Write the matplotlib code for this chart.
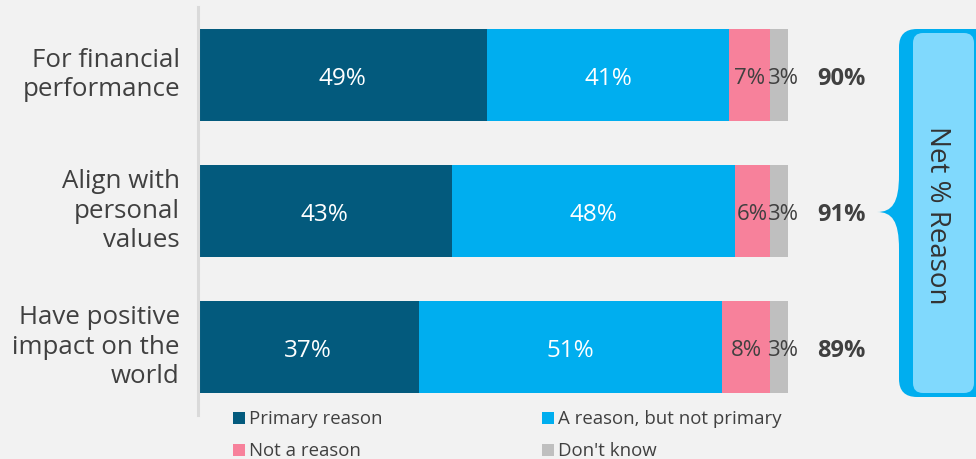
import matplotlib
matplotlib.use("Agg")
import matplotlib.pyplot as plt
from matplotlib.path import Path
from matplotlib.patches import PathPatch, FancyBboxPatch, Rectangle
import matplotlib.transforms as mtransforms
import numpy as np

plt.rcParams['font.family'] = ['Open Sans', 'DejaVu Sans']

categories = ["For financial\nperformance", "Align with\npersonal\nvalues", "Have positive\nimpact on the\nworld"]
series_names = ["Primary reason", "A reason, but not primary", "Not a reason", "Don't know"]
primary = [49, 43, 37]
reason_not_primary = [41, 48, 51]
not_a_reason = [7, 6, 8]
dont_know = [3, 3, 3]
net_reason = [90, 91, 89]
colors = ["#035A7D", "#00AEEF", "#F7819B", "#BFBFBF"]
label_colors = ["white", "white", "#404040", "#404040"]
label_sizes = [17.5, 17.5, 16, 16]
label_nudge = [0, 0, 0, 2.5]  # points

W, H = 976, 460
fig = plt.figure(figsize=(W / 100, H / 100), dpi=100, facecolor="#F2F2F2")

ax_left, ax_right, ax_top, ax_bot = 198, 788, 8, 416
ax = fig.add_axes([ax_left / W, 1 - ax_bot / H, (ax_right - ax_left) / W, (ax_bot - ax_top) / H])
ax.set_facecolor("none")

data = np.array([primary, reason_not_primary, not_a_reason, dont_know], dtype=float)
totals = data.sum(axis=0)
widths = data / totals * 100
y = np.arange(len(categories))
left = np.zeros(len(categories))
for i in range(len(series_names)):
    ax.barh(y, widths[i], left=left, height=0.67, color=colors[i], edgecolor="none", zorder=2)
    for j in range(len(categories)):
        ax.annotate(f"{int(data[i][j])}%", (left[j] + widths[i][j] / 2, y[j] + 0.02),
                    xytext=(label_nudge[i], 0), textcoords="offset points",
                    ha="center", va="center", fontsize=label_sizes[i],
                    color=label_colors[i], zorder=3)
    left += widths[i]

for j in range(len(categories)):
    ax.text(109, y[j] + 0.02, f"{net_reason[j]}%", ha="center", va="center", fontsize=17,
            fontweight="bold", color="#404040", clip_on=False)

ax.set_xlim(0, 100)
ax.set_ylim(2.5, -0.5)
ax.set_yticks([])
ax.set_xticks([])
trans = mtransforms.blended_transform_factory(ax.transAxes, ax.transData)
for j, cat in enumerate(categories):
    ax.annotate(cat, (0, y[j]), xycoords=trans, xytext=(-13, 0.5), textcoords="offset points",
                ha="right", va="center", multialignment="right", fontsize=18.6,
                color="#404040", linespacing=1.23, annotation_clip=False)
for s in ["top", "right", "bottom"]:
    ax.spines[s].set_visible(False)
ax.spines["left"].set_color("#DADADA")
ax.spines["left"].set_linewidth(2.2)

# overlay in pixel coordinates for decorations
ov = fig.add_axes([0, 0, 1, 1])
ov.set_xlim(0, W)
ov.set_ylim(H, 0)
ov.axis("off")
ov.set_facecolor("none")

# brace / bracket shape
r = 18
verts = [
    (899 + r, 30), (976, 30), (976, 398), (899 + r, 398),
    (899, 398), (899, 398 - r),
    (899, 250),
    (899, 222), (892, 213), (877, 213),
    (892, 213), (899, 204), (899, 176),
    (899, 30 + r),
    (899, 30), (899 + r, 30),
    (899 + r, 30),
]
codes = [Path.MOVETO, Path.LINETO, Path.LINETO, Path.LINETO,
         Path.CURVE3, Path.CURVE3,
         Path.LINETO,
         Path.CURVE4, Path.CURVE4, Path.CURVE4,
         Path.CURVE4, Path.CURVE4, Path.CURVE4,
         Path.LINETO,
         Path.CURVE3, Path.CURVE3,
         Path.CLOSEPOLY]
ov.add_patch(PathPatch(Path(verts, codes), facecolor="#00AEEF", edgecolor="none"))
ov.add_patch(FancyBboxPatch((913, 34), 974 - 913, 394 - 34,
                            boxstyle="round,pad=0,rounding_size=10",
                            facecolor="#80D9FD", edgecolor="none"))
ov.text(937, 215, "Net % Reason", rotation=-90, ha="center", va="center",
        fontsize=20, color="#333333")

# legend
leg_pos = [(233, 419), (542, 419), (233, 451), (542, 451)]
for (lx, ly), name, c in zip(leg_pos, series_names, colors):
    ov.add_patch(Rectangle((lx, ly - 6), 12, 12, facecolor=c, edgecolor="none"))
    ov.text(lx + 16, ly, name, ha="left", va="center", fontsize=13.4, color="#404040")

fig.savefig("out.png", dpi=100, facecolor=fig.get_facecolor())
